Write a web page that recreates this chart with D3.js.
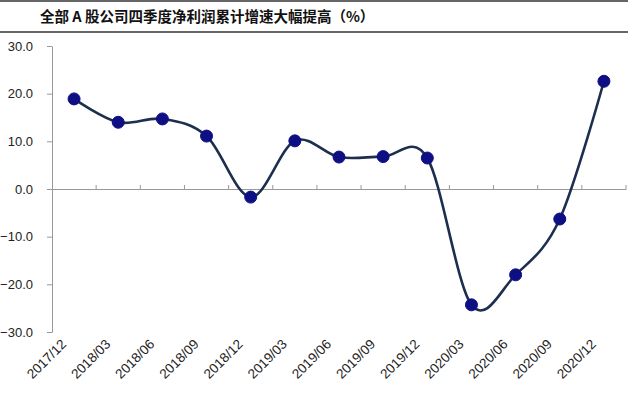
<!DOCTYPE html>
<html>
<head>
<meta charset="utf-8">
<script src="https://cdn.jsdelivr.net/npm/d3@7"></script>
<style>
  body { margin: 0; background: #fff; }
  svg { display: block; }
</style>
</head>
<body>
<svg width="628" height="394"></svg>
<script>
const titleText = '全部 A 股公司四季度净利润累计增速大幅提高（%）';
const periods = ['2017/12', '2018/03', '2018/06', '2018/09', '2018/12', '2019/03', '2019/06',
    '2019/09', '2019/12', '2020/03', '2020/06', '2020/09', '2020/12'];
const growth = [18.9, 14.0, 14.7, 11.1, -1.7, 10.1, 6.7, 6.8, 6.5, -24.3, -18.0, -6.3, 22.6];
const yTicks = [30, 20, 10, 0, -10, -20, -30];

const svg = d3.select('svg');
const width = +svg.attr('width');

// ---- title with rules
svg.append('line')
    .attr('x1', 0).attr('x2', width).attr('y1', 1).attr('y2', 1)
    .attr('stroke', '#333').attr('stroke-width', 1.5);
svg.append('line')
    .attr('x1', 0).attr('x2', width).attr('y1', 32).attr('y2', 32)
    .attr('stroke', '#333').attr('stroke-width', 1.5);
svg.append('text')
    .attr('x', 40).attr('y', 22)
    .attr('font-family', '"Noto Sans CJK SC", sans-serif')
    .attr('font-weight', 'bold')
    .attr('font-size', 14.5)
    .attr('fill', '#111')
    .text(titleText);

// ---- scales
const x = d3.scaleBand().domain(periods).range([52, 626]);
const y = d3.scaleLinear().domain([-30, 30]).range([332, 46]);

// ---- axes
const yAxis = svg.append('g')
    .attr('transform', 'translate(52,0)')
    .call(d3.axisLeft(y).tickValues(yTicks).tickSize(5).tickSizeOuter(0).tickFormat(d3.format('.1f')));
yAxis.select('.domain').attr('stroke', '#999');
yAxis.selectAll('.tick line').attr('stroke', '#999');
yAxis.selectAll('.tick text')
    .attr('x', -19)
    .attr('fill', '#222')
    .attr('font-family', '"Liberation Sans", Arial, sans-serif')
    .attr('font-size', 13);

const xAxis = svg.append('g')
    .attr('transform', `translate(0,${y(0)})`)
    .call(d3.axisBottom(x).tickSize(0).tickSizeOuter(0));
xAxis.select('.domain').attr('stroke', '#999');
xAxis.selectAll('.tick text').remove();
// category dividers (ticks between categories, pointing up)
xAxis.selectAll('.sep')
    .data(periods)
    .join('line')
    .attr('class', 'sep')
    .attr('x1', d => x(d) + x.bandwidth())
    .attr('x2', d => x(d) + x.bandwidth())
    .attr('y1', 0).attr('y2', -4)
    .attr('stroke', '#999');

// category labels along the bottom
svg.append('g')
    .selectAll('text')
    .data(periods)
    .join('text')
    .attr('transform', d => `translate(${x(d) + x.bandwidth() / 2 - 7},${345}) rotate(-45)`)
    .attr('text-anchor', 'end')
    .attr('font-family', '"Liberation Sans", Arial, sans-serif')
    .attr('font-size', 13.5)
    .attr('fill', '#222')
    .text(d => d);

// ---- line + markers
const line = d3.line()
    .x((d, i) => x(periods[i]) + x.bandwidth() / 2)
    .y(d => y(d))
    .curve(d3.curveCardinal.tension(0));

svg.append('path')
    .datum(growth)
    .attr('d', line)
    .attr('fill', 'none')
    .attr('stroke', '#1c2f4f')
    .attr('stroke-width', 2.6);

svg.append('g')
    .selectAll('circle')
    .data(growth)
    .join('circle')
    .attr('cx', (d, i) => x(periods[i]) + x.bandwidth() / 2)
    .attr('cy', d => y(d))
    .attr('r', 6)
    .attr('fill', '#0f0f84')
    .attr('stroke', '#0f0f84');
</script>
</body>
</html>
